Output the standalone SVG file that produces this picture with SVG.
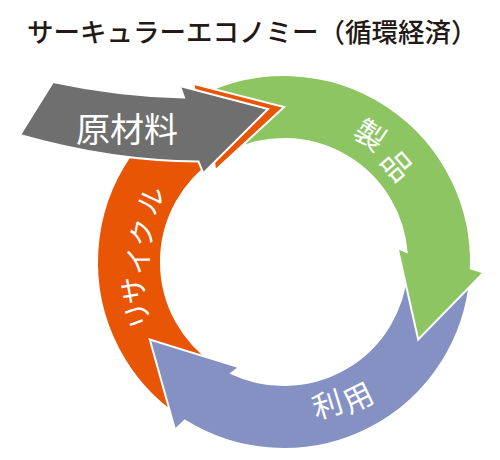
<svg xmlns="http://www.w3.org/2000/svg" xmlns:xlink="http://www.w3.org/1999/xlink" width="500" height="460" viewBox="0 0 500 460">
<style>
.arr{stroke:#ffffff;stroke-width:2;stroke-linejoin:miter}
.lbl{font-family:"Noto Sans CJK JP","Noto Sans",sans-serif;fill:#ffffff;text-anchor:middle}
.title{font-family:"Noto Sans CJK JP","Noto Sans",sans-serif;fill:#231815;font-size:26.5px;font-weight:500}
</style>
<defs>
<path id="ring-arrow" d="M205,92.5 A187,187 0 0 1 470.9,268.5 L483.7,272.5 L418.2,339.5 L397.6,248 L406.6,251.9 A123,123 0 0 0 232,150.5 Z"/>
</defs>
<rect width="500" height="460" fill="#ffffff"/>
<text class="title" x="27" y="42">サーキュラーエコノミー（循環経済）</text>

<g id="recycle">
<use xlink:href="#ring-arrow" href="#ring-arrow" class="arr" fill="#e85505" transform="rotate(240 284 262)"/>
<g class="lbl" font-size="28">
<text transform="translate(138 315) rotate(-110)" y="10">リ</text>
<text transform="translate(134 290) rotate(-100)" y="10">サ</text>
<text transform="translate(139 261) rotate(-90)" y="10">イ</text>
<text transform="translate(143 233) rotate(-78)" y="10">ク</text>
<text transform="translate(151 200) rotate(-65)" y="10">ル</text>
</g>
</g>

<g id="use">
<use xlink:href="#ring-arrow" href="#ring-arrow" class="arr" fill="#8491c2" transform="rotate(120 284 262)"/>
<g class="lbl" font-size="30">
<text transform="translate(327.5 404.5) rotate(-17)" y="11">利</text>
<text transform="translate(358 397.5) rotate(-26)" y="11">用</text>
</g>
</g>

<g id="product">
<use xlink:href="#ring-arrow" href="#ring-arrow" class="arr" fill="#8dc563"/>
<g class="lbl" font-size="30">
<text transform="translate(370 135) rotate(34)" y="11">製</text>
<text transform="translate(397 165.5) rotate(49.5)" y="11">品</text>
</g>
</g>

<g id="recycle-head">
<polygon class="arr" fill="#e85505" points="196.2,96.9 193.2,83.8 284,107 215.1,170.6 214,160.9"/>
</g>

<g id="raw-material">
<path class="arr" fill="#6f6f6f" d="M53,82 Q118,96 184,97.5 L180,86 L268,109 L203.3,173.3 L198.5,161.5 Q111,161 20,135 Z"/>
<text class="lbl" x="127" y="142" font-size="34">原材料</text>
</g>

<g id="connectors"></g>
</svg>
